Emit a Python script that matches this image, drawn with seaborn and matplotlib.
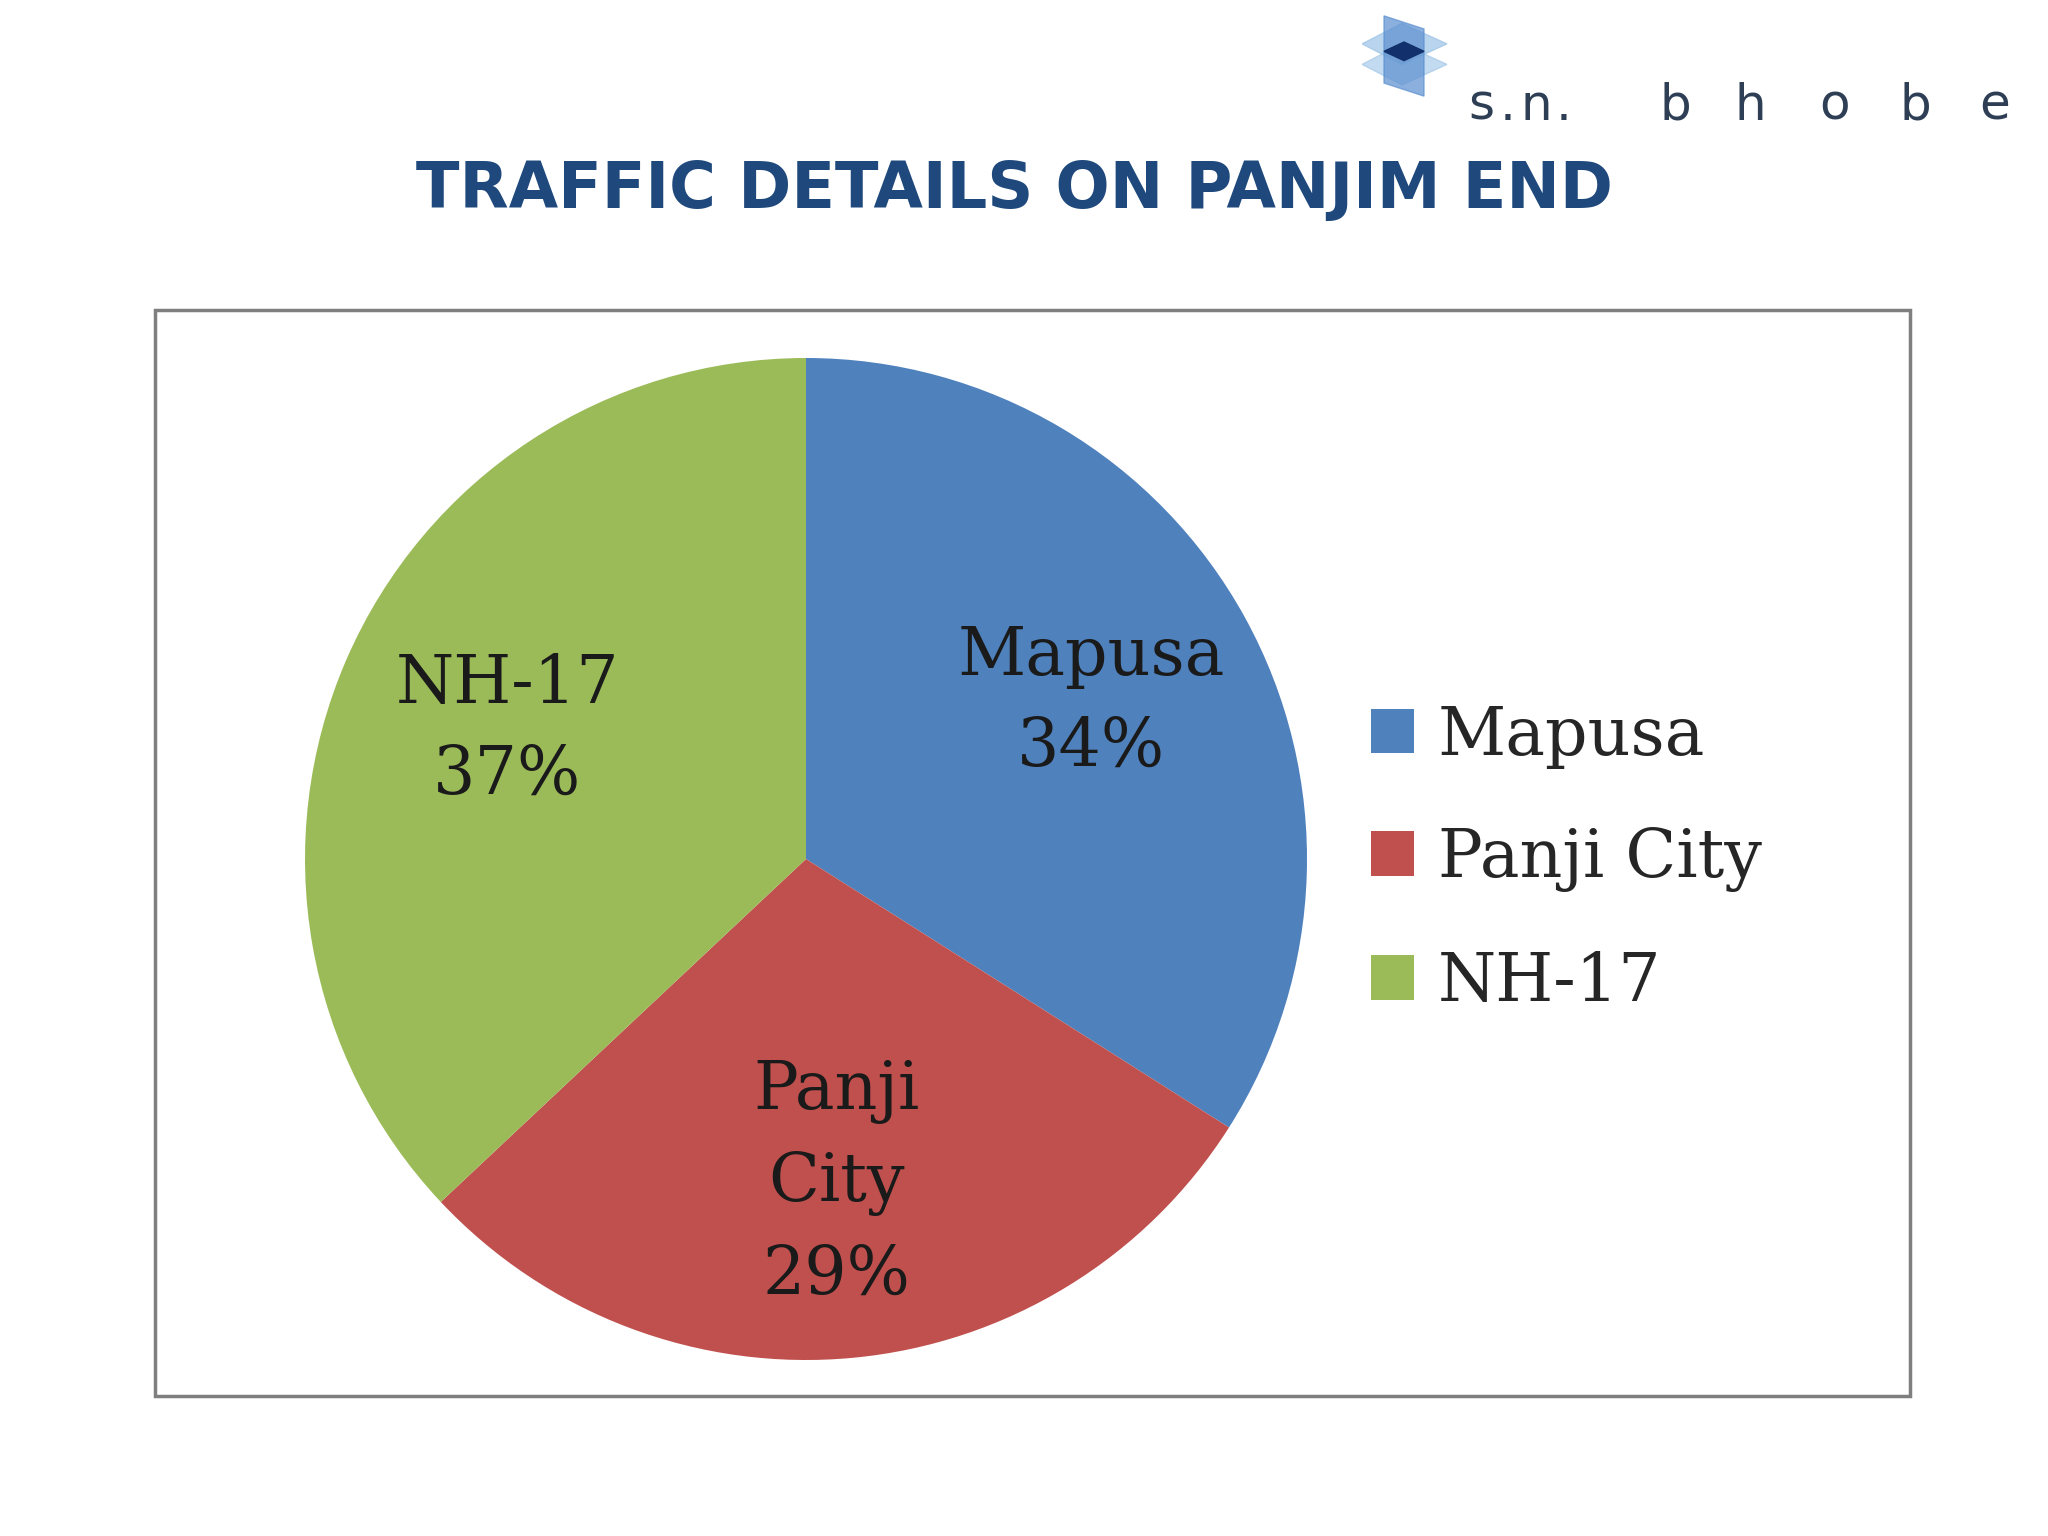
import numpy as np
import pandas as pd
import seaborn as sns
import matplotlib.pyplot as plt
from matplotlib.patches import Rectangle, Polygon

# traffic share at the Panjim end
categories = ['Mapusa', 'Panji City', 'NH-17']
shares = [34, 29, 37]
inner_names = ['Mapusa', 'Panji\nCity', 'NH-17']
colors = ['#4F81BD', '#C0504D', '#9BBB59']

df = pd.DataFrame({'Category': categories, 'Share': shares, 'Inner': inner_names})

sns.set_theme(style='white')
plt.rcParams['font.family'] = ['DejaVu Sans']

W, H = 2048, 1536
fig = plt.figure(figsize=(W / 100, H / 100), dpi=100)
fig.patch.set_facecolor('white')

# title
fig.text(1015 / W, 1 - 190 / H, 'TRAFFIC DETAILS ON PANJIM END', ha='center', va='center',
         fontsize=46, fontweight='bold', color='#1F497D')

# chart frame
fig.patches.append(Rectangle((155 / W, 140 / H), (1910 - 155) / W, (1396 - 310) / H,
                             transform=fig.transFigure, fill=False, ec='#7f7f7f', lw=2.5))

# pie
cx, cy, r = 806, 859, 501
ax = fig.add_axes([(cx - r) / W, (H - cy - r) / H, 2 * r / W, 2 * r / H])
labels = [f'{n}\n{s}%' for n, s in zip(df['Inner'], df['Share'])]
wedges, texts = ax.pie(df['Share'], labels=labels, colors=colors, startangle=90,
                       counterclock=False, labeldistance=0.65,
                       wedgeprops=dict(linewidth=0),
                       textprops=dict(fontsize=48, family='DejaVu Serif', color='#1a1a1a'))
for t in texts:
    t.set_ha('center')
    t.set_va('center')
    t.set_linespacing(1.5)
ax.set_xlim(-1, 1)
ax.set_ylim(-1, 1)
ax.set_aspect('equal')
ax.axis('off')

fig.legend(wedges, df['Category'], loc='center left', bbox_to_anchor=(1371 / W, 1 - 859 / H),
           bbox_transform=fig.transFigure, frameon=False, borderpad=0, borderaxespad=0,
           handlelength=0.65, handleheight=0.65, handletextpad=0.35, labelspacing=0.86,
           prop=dict(family='DejaVu Serif', size=48))

# logo mark
lax = fig.add_axes([1362 / W, 1 - 98 / H, 100 / W, 84 / H])
lax.set_xlim(0, 100)
lax.set_ylim(0, 90)
lax.axis('off')
lax.add_patch(Polygon([[0, 58], [40, 80], [85, 58], [40, 36]], color='#9CC3E6', alpha=0.7))
lax.add_patch(Polygon([[0, 36], [40, 58], [85, 36], [40, 14]], color='#9CC3E6', alpha=0.6))
lax.add_patch(Polygon([[22, 88], [62, 74], [62, 2], [22, 16]], color='#5B8FD0', alpha=0.7))
lax.add_patch(Polygon([[22, 50], [42, 60], [62, 50], [42, 40]], color='#12306B'))

# logo text, one glyph per slot
logo_chars = list('s.n. bhobe')
logo_x = [1481, 1508, 1536, 1564, 1600, 1675, 1750, 1835, 1915, 1995]
for ch, x in zip(logo_chars, logo_x):
    fig.text(x / W, 1 - 120 / H, ch, ha='center', va='baseline', fontsize=36,
             color='#2E3F55')

plt.savefig('out.png', dpi=100, facecolor='white')
